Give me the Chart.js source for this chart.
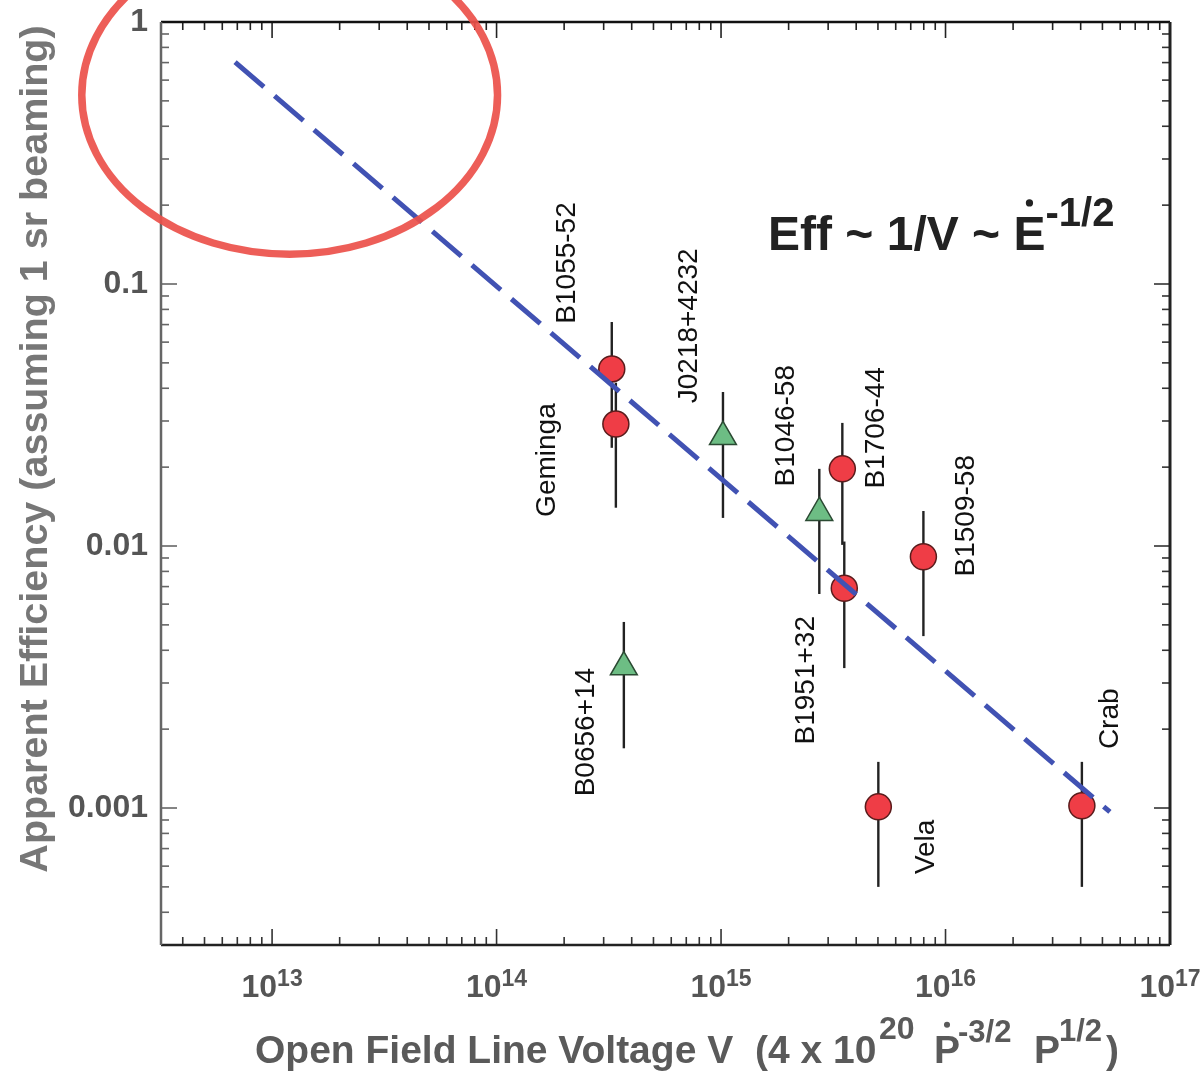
<!DOCTYPE html>
<html>
<head>
<meta charset="utf-8">
<script src="https://cdn.jsdelivr.net/npm/chart.js@4.4.1/dist/chart.umd.min.js"></script>
<style>
  html,body{margin:0;padding:0;background:#fff}
  #wrap{width:1200px;height:1072px;position:relative}
</style>
</head>
<body>
<div id="wrap"><canvas id="c"></canvas></div>
<script>
/* ---------------- data ---------------- */
const names   = ['B1055-52','Geminga','J0218+4232','B1046-58','B1706-44','B1951+32','B1509-58','B0656+14','Vela','Crab'];
const voltage = [3.26e14, 3.40e14, 1.02e15, 2.74e15, 3.47e15, 3.54e15, 7.97e15, 3.69e14, 5.02e15, 4.05e16];
const eff     = [0.0474, 0.0292, 0.0261, 0.0134, 0.0197, 0.0069, 0.0091, 0.00345, 0.00101, 0.00102];
const effHi   = [0.0716, 0.0420, 0.0387, 0.0197, 0.0295, 0.0104, 0.0136, 0.00513, 0.00150, 0.00150];
const effLo   = [0.0237, 0.0140, 0.0128, 0.00656, 0.0101, 0.00342, 0.00453, 0.00169, 0.00050, 0.00050];
const kind    = ['circle','circle','tri','tri','circle','circle','circle','tri','circle','circle'];

const fitX = [6.84e12, 5.4e16];
const fitY = [0.703, 0.000966];

const xRange = [3.2e12, 1e17];
const yRange = [3e-4, 1];
const xTicks   = [1e13, 1e14, 1e15, 1e16, 1e17];
const xTickExp = ['13','14','15','16','17'];
const yTicks      = [1, 0.1, 0.01, 0.001];
const yTickLabels = ['1','0.1','0.01','0.001'];

// hand-drawn ring, as a data box
const ringX = [1.42e12, 1.01e14];
const ringY = [0.130, 2.13];

/* ---------------- layout / style ---------------- */
// label offset from its point, px (label centre)
const labelOff = [[-44,-106],[-69,36],[-34,-111],[-33,-87],[34,-41],[-38,92],[43,-41],[-38,65],[48,40],[28,-87]];
const FONT = '"Liberation Sans", Arial, Helvetica, sans-serif';

const pts = i => ({x: voltage[i], y: eff[i]});
const idx = k => kind.map((v,i)=>v===k?i:-1).filter(i=>i>=0);

/* ---------------- helpers ---------------- */
// text runs with superscripts; part = [text, size, rise, dot, absX]
function runs(ctx, parts, x, y, weight){
  let cx = x;
  parts.forEach(([t,s,r,dot,ax])=>{
    if(ax!==undefined) cx = ax;
    ctx.font = `${weight} ${s}px ${FONT}`;
    ctx.fillText(t, cx, y - r);
    const w = ctx.measureText(t).width;
    if(dot){
      const d = s*0.13;
      ctx.beginPath();
      ctx.arc(cx + w/2, y - r - s*0.72 - d*2, d/2+0.5, 0, Math.PI*2);
      ctx.fill();
    }
    cx += w;
  });
}
function runsWidth(ctx, parts, weight){
  let w = 0;
  parts.forEach(([t,s])=>{ ctx.font = `${weight} ${s}px ${FONT}`; w += ctx.measureText(t).width; });
  return w;
}

/* ---------------- plugins ---------------- */
const errorBars = {
  id:'errorBars',
  beforeDatasetsDraw(chart){
    const {ctx, scales:{x,y}} = chart;
    ctx.save();
    ctx.strokeStyle = '#222';
    ctx.lineWidth = 2.4;
    names.forEach((n,i)=>{
      const px = x.getPixelForValue(voltage[i]);
      ctx.beginPath();
      ctx.moveTo(px, y.getPixelForValue(effHi[i]));
      ctx.lineTo(px, y.getPixelForValue(effLo[i]));
      ctx.stroke();
    });
    ctx.restore();
  }
};

const decor = {
  id:'decor',
  afterDraw(chart){
    const {ctx, chartArea:a, scales:{x,y}} = chart;
    ctx.save();

    const side = (x1,y1,x2,y2,c,w)=>{ctx.strokeStyle=c;ctx.lineWidth=w;ctx.beginPath();ctx.moveTo(x1,y1);ctx.lineTo(x2,y2);ctx.stroke();};
    // ticks, inward on all four sides
    for(let d=12; d<=17; d++){
      for(let m=1; m<=9; m++){
        const v = m*Math.pow(10,d);
        if(v < xRange[0] || v > xRange[1]*1.001) continue;
        const px = x.getPixelForValue(v), L = m===1 ? 16 : 8;
        side(px, a.bottom, px, a.bottom-L, '#333', 1.6);
        side(px, a.top, px, a.top+L, '#222', 1.6);
      }
    }
    for(let d=-4; d<=0; d++){
      for(let m=1; m<=9; m++){
        const v = m*Math.pow(10,d);
        if(v < yRange[0] || v > yRange[1]*1.001) continue;
        const py = y.getPixelForValue(v), L = m===1 ? 16 : 8;
        side(a.left, py, a.left+L, py, '#666', 1.6);
        side(a.right, py, a.right-L, py, '#333', 1.6);
      }
    }
    side(a.left, a.top, a.right, a.top, '#111', 2.5);
    side(a.right, a.top, a.right, a.bottom, '#222', 3);
    side(a.left, a.bottom, a.right, a.bottom, '#222', 2.5);
    side(a.left, a.top, a.left, a.bottom, '#666', 2.5);

    // tick labels
    ctx.fillStyle = '#555';
    ctx.textBaseline = 'alphabetic';
    ctx.textAlign = 'left';
    xTicks.forEach((v,i)=>{
      const parts = [['10',32,0],[xTickExp[i],23,11]];
      const w = runsWidth(ctx, parts, 'bold');
      runs(ctx, parts, x.getPixelForValue(v) - w/2, 997, 'bold');
    });
    ctx.textAlign = 'right';
    ctx.textBaseline = 'middle';
    ctx.font = `bold 32px ${FONT}`;
    yTicks.forEach((v,i)=> ctx.fillText(yTickLabels[i], 148, y.getPixelForValue(v)));

    // axis titles
    ctx.textAlign = 'left';
    ctx.textBaseline = 'alphabetic';
    ctx.fillStyle = '#5a5a5a';
    runs(ctx, [
      ['Open Field Line Voltage V',39,0],
      ['(4 x 10',39,0,false,755],
      ['20',32,24,false,879],
      ['P',39,0,true,934],
      ['-3/2',31,21,false,958],
      ['P',39,0,false,1034],
      ['1/2',31,22,false,1059],
      [')',39,0,false,1106]
    ], 255, 1063, 'bold');

    ctx.save();
    ctx.fillStyle = '#777';
    ctx.translate(47, 449);
    ctx.rotate(-Math.PI/2);
    ctx.textAlign = 'center';
    ctx.font = `bold 39.5px ${FONT}`;
    ctx.fillText('Apparent Efficiency (assuming 1 sr beaming)', 0, 0);
    ctx.restore();

    // relation text
    ctx.fillStyle = '#222';
    runs(ctx, [['Eff ~ 1/V ~ ',48,0],['E',48,0,true],['-1/2',40,24]], 768, 250, 'bold');

    // pulsar labels
    ctx.fillStyle = '#111';
    ctx.font = `28px ${FONT}`;
    ctx.textAlign = 'center';
    ctx.textBaseline = 'middle';
    names.forEach((n,i)=>{
      ctx.save();
      ctx.translate(x.getPixelForValue(voltage[i]) + labelOff[i][0], y.getPixelForValue(eff[i]) + labelOff[i][1]);
      ctx.rotate(-Math.PI/2);
      ctx.fillText(n, 0, 0);
      ctx.restore();
    });

    // red ring
    const l = x.getPixelForValue(ringX[0]), r = x.getPixelForValue(ringX[1]);
    const b = y.getPixelForValue(ringY[0]), t = y.getPixelForValue(ringY[1]);
    ctx.strokeStyle = 'rgba(235,80,74,0.92)';
    ctx.lineWidth = 7.5;
    ctx.beginPath();
    ctx.ellipse((l+r)/2, (t+b)/2, (r-l)/2, (b-t)/2, 0, 0, Math.PI*2);
    ctx.stroke();

    ctx.restore();
  }
};

/* ---------------- chart ---------------- */
new Chart(document.getElementById('c'), {
  data:{
    datasets:[
      {
        type:'line', label:'fit', order:0,
        data: fitX.map((v,i)=>({x:v, y:fitY[i]})),
        borderColor:'#4152b3', borderWidth:5, borderDash:[38,14],
        pointRadius:0, fill:false, tension:0
      },
      {
        type:'scatter', label:'circles', order:2,
        data: idx('circle').map(pts),
        pointStyle:'circle', pointRadius:13,
        backgroundColor:'#ef3d46', borderColor:'#5a1c1c', borderWidth:1.5
      },
      {
        type:'scatter', label:'triangles', order:1,
        data: idx('tri').map(pts),
        pointStyle:'triangle', pointRadius:15.5,
        backgroundColor:'#6dbd84', borderColor:'#2b4a33', borderWidth:1.5
      }
    ]
  },
  options:{
    responsive:true, maintainAspectRatio:false, animation:false, events:[],
    layout:{padding:{left:161, right:30, top:22, bottom:127}},
    plugins:{legend:{display:false}, tooltip:{enabled:false}},
    scales:{
      x:{type:'logarithmic', min:xRange[0], max:xRange[1], display:false},
      y:{type:'logarithmic', min:yRange[0], max:yRange[1], display:false}
    }
  },
  plugins:[errorBars, decor]
});
</script>
</body>
</html>
